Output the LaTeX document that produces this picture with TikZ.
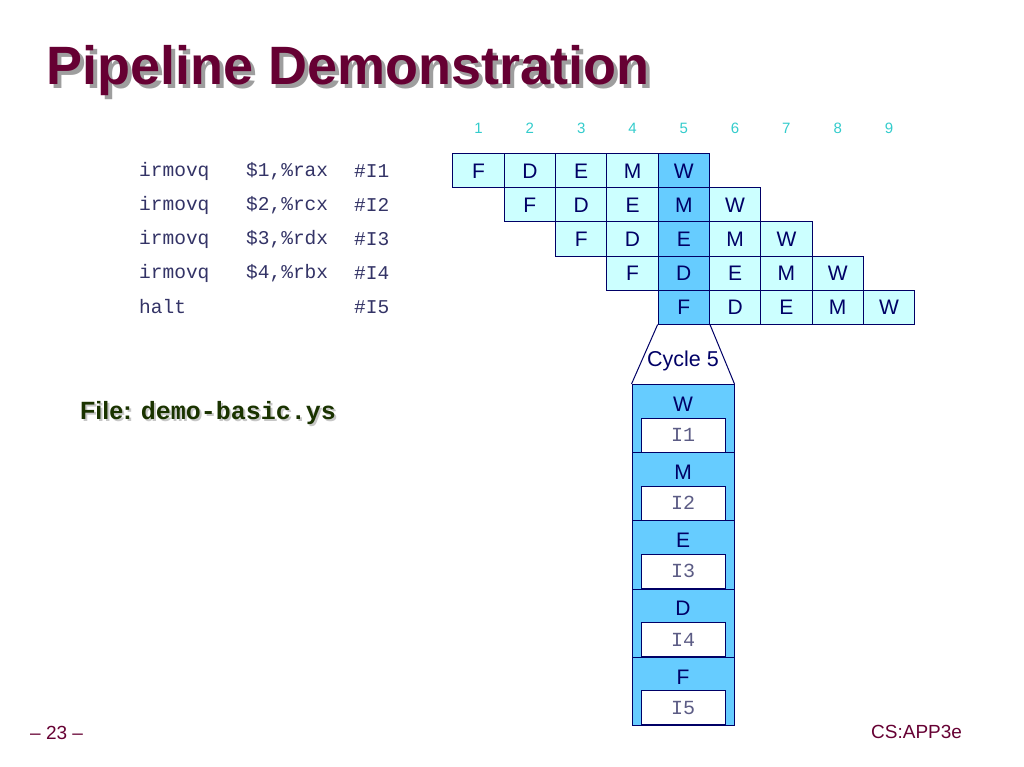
\documentclass[tikz,border=0pt]{standalone}
\usepackage{fontspec}
\setmainfont{Liberation Sans}
\setmonofont{Liberation Mono}
\usepackage{tikz}
\usetikzlibrary{positioning}
\definecolor{titlered}{HTML}{660033}
\definecolor{navy}{HTML}{000066}
\definecolor{cellfill}{HTML}{CCFFFF}
\definecolor{curfill}{HTML}{66CCFF}
\definecolor{cyclenum}{HTML}{33CCCC}
\definecolor{codeblue}{HTML}{333366}
\definecolor{filegreen}{HTML}{1A3300}
% text with a drop shadow
\newcommand{\shadowtext}[3]{\makebox[0pt][l]{\hspace{#2}\raisebox{-#2}{\color{#1}#3}}#3}

\begin{document}
\begin{tikzpicture}[
        x=1pt, y=-1pt,
        cell/.style={rectangle, draw=navy, line width=1pt, minimum width=51.3pt, minimum height=34pt, inner sep=0pt, text=navy, font=\fontsize{21}{21}\selectfont},
        cyc/.style={text=cyclenum, font=\fontsize{15}{15}\selectfont},
        code/.style={anchor=west, inner sep=0pt, text=codeblue, font=\ttfamily\fontsize{19.5}{20}\selectfont},
        stagebox/.style={rectangle, draw=navy, line width=1pt, fill=curfill, minimum width=102pt, minimum height=68.2pt, inner sep=0pt, anchor=north},
        stagelbl/.style={text=navy, font=\fontsize{21}{21}\selectfont},
        reg/.style={rectangle, draw=navy, line width=1pt, fill=white, minimum width=84pt, minimum height=34pt, inner sep=0pt, text=codeblue!80, font=\ttfamily\fontsize{20}{20}\selectfont},
        foot/.style={anchor=base west, inner sep=0pt, text=titlered, font=\fontsize{19}{19}\selectfont}
    ]
    \fill[white] (0,0) rectangle (1024,767);
    \useasboundingbox (0,0) rectangle (1024,767);

    % Title
    \node[anchor=base west, inner sep=0pt, text=titlered, font=\bfseries\fontsize{54}{54}\selectfont] (title) at (46,85) {\shadowtext{black!38}{4pt}{Pipeline Demonstration}};

    % Cycle numbers
    \foreach \n in {1,...,9}
        \node[cyc] (n\n) at ({478.6+51.3*(\n-1)},128) {\n};

    % Program
    \foreach \reg [count=\i] in {rax,rcx,rdx,rbx} {
        \node[code] (op\i) at (139,{171+34*(\i-1)}) {irmovq};
        \node[code] (arg\i) at (246,{171+34*(\i-1)}) {\$\i,\%\reg};
        \node[code] (tag\i) at (354,{171+34*(\i-1)}) {\#I\i};
    }
    \node[code] (op5) at (139,307) {halt};
    \node[code] (tag5) at (354,307) {\#I5};

    % Pipeline cells
    \foreach \i in {1,...,5} {
        \foreach \st [count=\s] in {F,D,E,M,W} {
            \pgfmathtruncatemacro\c{\i+\s-1}
            \ifnum\c=5 \def\cf{curfill}\else\def\cf{cellfill}\fi
            \node[cell, fill=\cf] (c\i-\c) at ({478.6+51.3*(\c-1)},{171+34*(\i-1)}) {\st};
        }
    }

    % Cycle 5 snapshot
    \foreach \st [count=\k] in {W,M,E,D,F} {
        \node[stagebox] (s\k) at (683,{384+68.2*(\k-1)}) {};
        \node[stagelbl] (l\k) at (683,{404+68.2*(\k-1)}) {\st};
        \node[reg] (r\k) at (683,{435+68.2*(\k-1)}) {I\k};
    }
    \draw[navy, line width=1pt] (c5-5.south west) -- (s1.north west);
    \draw[navy, line width=1pt] (c5-5.south east) -- (s1.north east);
    \node[text=navy, font=\fontsize{21.5}{21.5}\selectfont] (cycle) at (683,361) {Cycle 5};

    % File name
    \node[anchor=base west, inner sep=0pt, text=filegreen, font=\bfseries\fontsize{25}{25}\selectfont] (file) at (80,419) {\shadowtext{black!22}{2pt}{File: \texttt{demo-basic.ys}}};

    % Footer
    \node[foot] (page) at (30,739) {-- 23 --};
    \node[foot] (course) at (871,738) {CS:APP3e};
\end{tikzpicture}
\end{document}
